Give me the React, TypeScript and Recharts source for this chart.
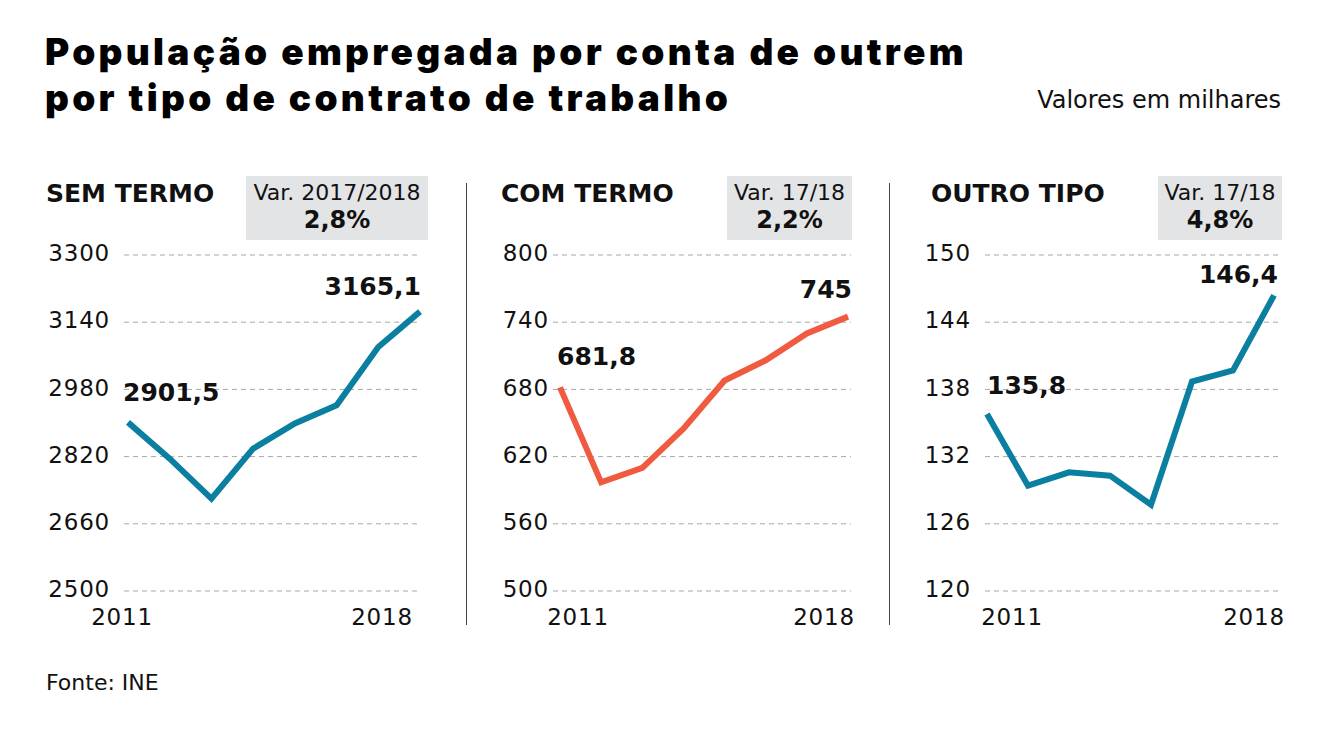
import React from 'react';
import { LineChart, Line, XAxis, YAxis, CartesianGrid } from 'recharts';

const years = [2011, 2012, 2013, 2014, 2015, 2016, 2017, 2018];

const semTermo = [2901.5, 2815, 2720, 2839, 2899, 2942, 3081, 3165.1];
const comTermo = [681.8, 597, 610, 645, 688, 706, 730, 745];
const outroTipo = [135.8, 129.4, 130.6, 130.3, 127.7, 138.7, 139.7, 146.4];

const semTermoTicks = [2500, 2660, 2820, 2980, 3140, 3300];
const comTermoTicks = [500, 560, 620, 680, 740, 800];
const outroTipoTicks = [120, 126, 132, 138, 144, 150];

const xTicks = [2011, 2018];

const FONT = '"DejaVu Sans", sans-serif';
const TITLE_FONT = 'Inter, "DejaVu Sans", sans-serif';
const BLUE = '#0a7fa0';
const RED = '#ef5a40';

const fmt = (v: number) => String(v).replace('.', ',');

interface PanelProps {
  title: string;
  varLabel: string;
  varValue: string;
  values: number[];
  ticks: number[];
  color: string;
  left: number;
  width: number;
  yWidth: number;
  tickGap: number;
  pad: { left: number; right: number };
  boxLeft: number;
  boxWidth: number;
  titleLeft: number;
  xOffsets: [number, number];
  labelDy: [number, number];
  labelDx: [number, number];
}

const Panel: React.FC<PanelProps> = (p) => {
  const data = years.map((y, i) => ({ year: y, value: p.values[i] }));
  const last = data.length - 1;

  // only the first and last values get a label
  const renderLabel = (props: any) => {
    const { x, y, index, value } = props;
    if (index !== 0 && index !== last) return null;
    const first = index === 0;
    return (
      <text
        key={`lbl-${index}`}
        x={x + (first ? p.labelDx[0] : p.labelDx[1])}
        y={y + (first ? p.labelDy[0] : p.labelDy[1])}
        textAnchor={first ? 'start' : 'end'}
        fontFamily={FONT}
        fontWeight={700}
        fontSize={25}
        fill="#111"
      >
        {fmt(value)}
      </text>
    );
  };

  const XTick = (props: any) => {
    const { x, y, payload } = props;
    const first = payload.value === 2011;
    return (
      <text
        x={x + (first ? p.xOffsets[0] : p.xOffsets[1])}
        y={y + 26}
        textAnchor="middle"
        fontFamily={FONT}
        fontSize={23}
        letterSpacing={0.8}
        fill="#111"
      >
        {payload.value}
      </text>
    );
  };

  return (
    <>
      <div
        style={{
          position: 'absolute', left: p.titleLeft, top: 177, fontFamily: FONT,
          fontWeight: 700, fontSize: 25, color: '#111', lineHeight: '34px',
        }}
      >
        {p.title}
      </div>
      <div
        style={{
          position: 'absolute', left: p.boxLeft, top: 176, width: p.boxWidth, height: 64,
          background: '#e3e4e6', fontFamily: FONT, color: '#111', textAlign: 'center',
        }}
      >
        <div style={{ fontSize: 22, lineHeight: '24px', marginTop: 5 }}>{p.varLabel}</div>
        <div style={{ fontSize: 24, fontWeight: 700, lineHeight: '30px' }}>{p.varValue}</div>
      </div>
      <div style={{ position: 'absolute', left: p.left, top: 240 }}>
        <LineChart
          width={p.width}
          height={391}
          data={data}
          margin={{ top: 15, right: 9, left: 0, bottom: 0 }}
        >
          <CartesianGrid horizontal vertical={false} stroke="#a8a8a8" strokeDasharray="5 4" />
          <XAxis
            dataKey="year"
            type="number"
            domain={[2011, 2018]}
            ticks={xTicks}
            axisLine={false}
            tickLine={false}
            tick={<XTick />}
            height={40}
            padding={p.pad}
          />
          <YAxis
            domain={[p.ticks[0], p.ticks[p.ticks.length - 1]]}
            ticks={p.ticks}
            width={p.yWidth}
            axisLine={false}
            tickLine={false}
            tickSize={0}
            tickMargin={p.tickGap}
            tick={{ fontFamily: FONT, fontSize: 23, fill: '#111', dy: -2, letterSpacing: 0.8 }}
          />
          <Line
            dataKey="value"
            stroke={p.color}
            strokeWidth={6}
            dot={false}
            activeDot={false}
            isAnimationActive={false}
            label={renderLabel}
          />
        </LineChart>
      </div>
    </>
  );
};

export default function App() {
  return (
    <div
      style={{
        position: 'fixed', left: 0, top: 0, width: 1334, height: 730,
        background: '#fff', overflow: 'hidden',
      }}
    >
      <div
        style={{
          position: 'absolute', left: 45, top: 29, fontFamily: TITLE_FONT, fontWeight: 900,
          fontSize: 37, lineHeight: '46px', color: '#000', letterSpacing: 3.3,
        }}
      >
        População empregada por conta de outrem
        <br />
        por tipo de contrato de trabalho
      </div>
      <div
        style={{
          position: 'absolute', right: 1334 - 1281, top: 86, fontFamily: FONT,
          fontSize: 24, color: '#111',
        }}
      >
        Valores em milhares
      </div>

      <Panel
        title="SEM TERMO"
        varLabel="Var. 2017/2018"
        varValue="2,8%"
        values={semTermo}
        ticks={semTermoTicks}
        color={BLUE}
        left={40}
        width={390}
        yWidth={84}
        tickGap={14}
        pad={{ left: 4, right: 1 }}
        boxLeft={246}
        boxWidth={182}
        titleLeft={46}
        xOffsets={[-6, -32]}
        labelDy={[-21, -17]}
        labelDx={[-5, 1]}
      />
      <div style={{ position: 'absolute', left: 466, top: 183, width: 1, height: 442, background: '#444' }} />
      <Panel
        title="COM TERMO"
        varLabel="Var. 17/18"
        varValue="2,2%"
        values={comTermo}
        ticks={comTermoTicks}
        color={RED}
        left={480}
        width={380}
        yWidth={73}
        tickGap={4}
        pad={{ left: 7, right: 3 }}
        boxLeft={727}
        boxWidth={125}
        titleLeft={501}
        xOffsets={[18, -20]}
        labelDy={[-22, -19]}
        labelDx={[-3, 4]}
      />
      <div style={{ position: 'absolute', left: 889, top: 183, width: 1, height: 442, background: '#444' }} />
      <Panel
        title="OUTRO TIPO"
        varLabel="Var. 17/18"
        varValue="4,8%"
        values={outroTipo}
        ticks={outroTipoTicks}
        color={BLUE}
        left={900}
        width={390}
        yWidth={85}
        tickGap={14}
        pad={{ left: 2, right: 7 }}
        boxLeft={1158}
        boxWidth={124}
        titleLeft={931}
        xOffsets={[25, -20]}
        labelDy={[-20, -12]}
        labelDx={[0, 4]}
      />

      <div
        style={{
          position: 'absolute', left: 46, top: 670, fontFamily: FONT, fontSize: 22, color: '#111',
        }}
      >
        Fonte: INE
      </div>
    </div>
  );
}
